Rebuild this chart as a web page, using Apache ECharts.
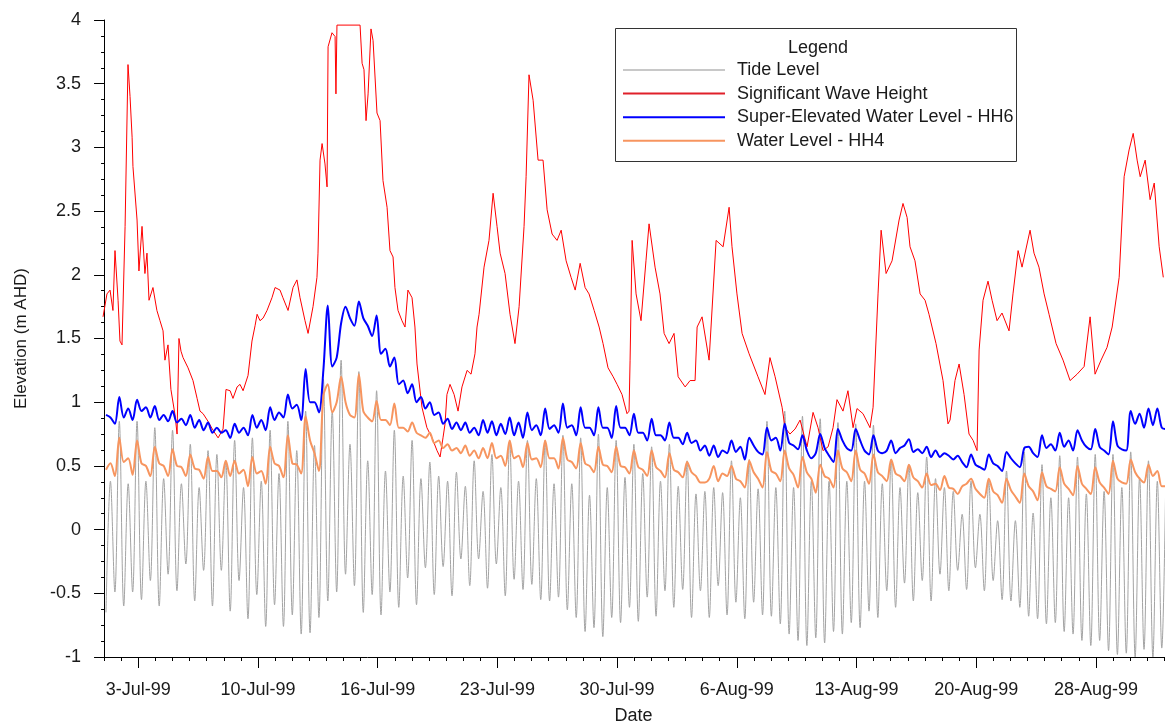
<!DOCTYPE html>
<html>
<head>
<meta charset="utf-8">
<script src="https://cdn.jsdelivr.net/npm/echarts@6/dist/echarts.min.js"></script>
<style>
html,body{margin:0;padding:0;background:#fff;}
#chart{width:1165px;height:724px;}
</style>
</head>
<body>
<div id="chart"></div>
<script>
// x values are days since 1-Jul-99 00:00
const dateLabels = ['3-Jul-99','10-Jul-99','16-Jul-99','23-Jul-99','30-Jul-99','6-Aug-99','13-Aug-99','20-Aug-99','28-Aug-99'];
const dateTickDays = [2, 9, 16, 23, 30, 37, 44, 51, 58];
const axisStartDay = -0.12;
const axisEndDay = 62.04;
const dayCount = 62;

const yTickLabels = ['-1','-0.5','0','0.5','1','1.5','2','2.5','3','3.5','4'];

// Tide / water-level series: sampled at successive tide turning points (every ~6.2 h)
const tideStartDay = 0.114;
const tideStepDay = 0.2594;

const tideLevel = [
 -0.65,0.38,-0.49,0.85,-0.60,0.36,-0.49,0.85,-0.55,0.38,
 -0.40,0.80,-0.60,0.40,-0.35,0.78,-0.48,0.36,-0.27,0.67,
 -0.56,0.33,-0.32,0.62,-0.60,0.59,-0.32,0.54,-0.64,0.70,
 -0.40,0.33,-0.70,0.72,-0.51,0.38,-0.76,0.78,-0.59,0.44,
 -0.76,0.85,-0.67,0.62,-0.82,0.93,-0.81,0.66,-0.69,1.18,
 -0.56,0.93,-0.49,1.33,-0.35,0.67,-0.44,1.24,-0.65,0.54,
 -0.51,1.09,-0.67,0.46,-0.49,0.78,-0.61,0.42,-0.38,0.70,
 -0.59,0.40,-0.30,0.53,-0.51,0.42,-0.29,0.38,-0.52,0.45,
 -0.23,0.34,-0.44,0.54,-0.23,0.30,-0.46,0.59,-0.27,0.33,
 -0.52,0.70,-0.39,0.38,-0.47,0.70,-0.43,0.40,-0.55,0.70,
 -0.56,0.36,-0.53,0.74,-0.63,0.36,-0.69,0.72,-0.80,0.27,
 -0.77,0.75,-0.84,0.33,-0.69,0.70,-0.73,0.41,-0.61,0.67,
 -0.72,0.44,-0.53,0.65,-0.68,0.38,-0.48,0.67,-0.61,0.34,
 -0.47,0.54,-0.69,0.28,-0.48,0.30,-0.69,0.33,-0.44,0.29,
 -0.67,0.54,-0.57,0.25,-0.70,0.55,-0.57,0.32,-0.67,0.85,
 -0.68,0.33,-0.74,0.93,-0.82,0.33,-0.87,0.89,-0.91,0.38,
 -0.85,0.87,-0.89,0.38,-0.80,0.84,-0.82,0.38,-0.73,0.83,
 -0.77,0.38,-0.64,0.82,-0.69,0.36,-0.48,0.55,-0.61,0.33,
 -0.42,0.51,-0.56,0.29,-0.40,0.57,-0.56,0.40,-0.35,0.33,
 -0.48,0.30,-0.32,0.12,-0.47,0.38,-0.30,0.12,-0.48,0.38,
 -0.40,0.07,-0.55,0.46,-0.56,0.07,-0.61,0.61,-0.68,0.13,
 -0.70,0.51,-0.74,0.25,-0.73,0.58,-0.80,0.25,-0.82,0.57,
 -0.87,0.28,-0.91,0.59,-0.87,0.30,-0.95,0.59,-0.98,0.33,
 -0.97,0.61,-1.00,0.41,-0.94,0.54,-1.00,0.38,-0.93,0.62
];

const hh6Level = [
 0.90,0.88,0.83,1.04,0.88,0.95,0.86,1.02,0.93,0.96,
 0.88,0.97,0.86,0.90,0.85,0.93,0.84,0.87,0.82,0.90,
 0.80,0.86,0.78,0.84,0.76,0.80,0.76,0.78,0.72,0.83,
 0.76,0.80,0.74,0.90,0.80,0.86,0.78,0.96,0.86,0.92,
 0.88,1.06,0.95,0.98,0.86,1.26,1.00,1.00,0.92,1.25,
 1.76,1.28,1.35,1.62,1.75,1.66,1.60,1.79,1.66,1.60,
 1.52,1.68,1.38,1.42,1.28,1.35,1.14,1.17,1.07,1.14,
 1.00,1.04,0.95,1.00,0.90,0.92,0.83,0.87,0.79,0.84,
 0.78,0.84,0.76,0.80,0.74,0.86,0.76,0.85,0.74,0.83,
 0.75,0.88,0.74,0.84,0.72,0.92,0.78,0.82,0.74,0.95,
 0.79,0.82,0.76,0.99,0.80,0.82,0.74,0.96,0.80,0.80,
 0.74,0.96,0.80,0.80,0.72,0.97,0.80,0.80,0.74,0.91,
 0.76,0.76,0.70,0.87,0.74,0.74,0.70,0.84,0.72,0.72,
 0.67,0.76,0.68,0.70,0.62,0.66,0.58,0.66,0.57,0.62,
 0.60,0.70,0.61,0.65,0.55,0.72,0.66,0.61,0.59,0.80,
 0.70,0.72,0.62,0.83,0.68,0.66,0.63,0.74,0.62,0.56,
 0.60,0.75,0.64,0.58,0.53,0.79,0.70,0.64,0.62,0.79,
 0.70,0.62,0.59,0.74,0.62,0.60,0.62,0.70,0.60,0.64,
 0.66,0.71,0.61,0.63,0.60,0.65,0.57,0.62,0.57,0.60,
 0.58,0.55,0.58,0.53,0.49,0.59,0.51,0.49,0.47,0.59,
 0.52,0.50,0.46,0.61,0.56,0.52,0.49,0.64,0.65,0.60,
 0.57,0.74,0.64,0.67,0.62,0.76,0.65,0.70,0.62,0.78,
 0.70,0.65,0.63,0.79,0.65,0.62,0.59,0.85,0.66,0.63,
 0.62,0.93,0.83,0.91,0.80,0.95,0.82,0.95,0.80,0.79
];

const hh4Level = [
 0.47,0.52,0.42,0.72,0.53,0.56,0.43,0.70,0.52,0.50,
 0.42,0.65,0.52,0.50,0.42,0.63,0.50,0.49,0.42,0.59,
 0.48,0.47,0.40,0.57,0.46,0.46,0.41,0.54,0.42,0.54,
 0.44,0.47,0.34,0.57,0.44,0.46,0.36,0.65,0.52,0.50,
 0.41,0.74,0.52,0.51,0.44,0.89,0.70,0.60,0.46,1.05,
 1.14,0.92,1.00,1.20,1.00,0.90,0.88,1.22,0.93,0.88,
 0.85,1.01,0.86,0.86,0.82,0.99,0.80,0.80,0.77,0.84,
 0.76,0.74,0.72,0.76,0.68,0.70,0.64,0.67,0.62,0.64,
 0.60,0.66,0.58,0.62,0.56,0.64,0.56,0.68,0.56,0.58,
 0.50,0.70,0.56,0.58,0.49,0.68,0.55,0.56,0.49,0.70,
 0.56,0.56,0.48,0.72,0.55,0.53,0.48,0.68,0.52,0.50,
 0.45,0.65,0.51,0.50,0.45,0.65,0.50,0.49,0.44,0.62,
 0.49,0.47,0.42,0.62,0.49,0.46,0.41,0.60,0.47,0.45,
 0.41,0.53,0.45,0.42,0.37,0.37,0.40,0.50,0.38,0.44,
 0.42,0.50,0.40,0.38,0.33,0.54,0.45,0.40,0.33,0.61,
 0.46,0.44,0.38,0.62,0.48,0.43,0.33,0.57,0.45,0.40,
 0.29,0.51,0.42,0.40,0.33,0.62,0.48,0.45,0.38,0.62,
 0.47,0.44,0.36,0.59,0.45,0.42,0.38,0.55,0.44,0.42,
 0.38,0.51,0.41,0.38,0.33,0.44,0.35,0.36,0.31,0.42,
 0.33,0.32,0.28,0.34,0.36,0.40,0.32,0.28,0.25,0.40,
 0.30,0.27,0.21,0.40,0.31,0.26,0.21,0.44,0.34,0.30,
 0.23,0.45,0.34,0.32,0.30,0.49,0.36,0.32,0.27,0.50,
 0.36,0.32,0.28,0.49,0.37,0.33,0.28,0.54,0.40,0.37,
 0.36,0.55,0.45,0.40,0.37,0.51,0.42,0.46,0.34,0.34
];

// Significant wave height: read points (day, metres)
const waveDays = [
 -0.06,0.17,0.35,0.52,0.64,0.82,0.93,1.05,1.23,1.40,1.52,1.64,1.69,1.93,2.04,2.22,2.39,2.51,2.63,2.86,
 3.09,3.27,3.45,3.56,3.74,3.91,4.15,4.27,4.38,4.50,4.62,4.91,5.20,5.44,5.61,5.79,6.08,6.37,6.67,6.96,
 7.13,7.37,7.54,7.78,7.95,8.13,8.42,8.65,8.83,8.95,9.12,9.30,9.53,9.82,10.00,10.29,10.46,10.76,11.05,11.28,
 11.46,11.75,11.93,12.22,12.45,12.51,12.63,12.75,12.92,13.04,13.10,13.33,13.51,13.56,13.62,14.97,15.09,15.20,15.32,15.44,
 15.61,15.73,15.96,16.14,16.31,16.55,16.72,16.90,17.01,17.19,17.42,17.60,17.77,18.01,18.18,18.30,18.59,18.88,19.18,19.47,
 19.65,19.82,19.94,20.05,20.23,20.47,20.70,20.93,21.23,21.46,21.69,21.81,21.93,22.22,22.51,22.75,22.98,23.16,23.45,23.74,
 24.03,24.27,24.56,24.68,24.85,25.09,25.38,25.67,25.91,26.20,26.49,26.73,27.02,27.31,27.55,27.84,28.13,28.36,28.66,28.95,
 29.18,29.47,29.77,30.00,30.29,30.58,30.70,30.76,30.88,31.11,31.40,31.69,31.87,32.22,32.51,32.75,33.04,33.33,33.57,33.98,
 34.27,34.56,34.68,34.97,35.38,35.79,36.20,36.55,36.72,37.01,37.31,37.72,38.24,38.65,38.94,39.24,39.65,39.82,40.11,40.41,
 40.70,41.11,41.46,41.75,42.04,42.34,42.63,42.86,43.21,43.50,43.80,44.03,44.38,44.79,44.97,45.26,45.44,45.73,46.08,46.49,
 46.72,46.96,47.13,47.42,47.72,48.01,48.24,48.65,49.06,49.35,49.47,49.76,50.00,50.29,50.58,50.82,51.05,51.17,51.40,51.69,
 51.93,52.22,52.51,52.92,53.15,53.45,53.68,54.15,54.38,54.67,54.97,55.26,55.67,56.08,56.49,56.90,57.31,57.66,57.95,58.30,
 58.65,58.95,59.36,59.65,59.94,60.18,60.41,60.59,60.88,61.17,61.41,61.70,61.94
];
const waveHeight = [
 1.67,1.85,1.88,1.72,2.19,1.80,1.48,1.45,2.38,3.65,3.40,3.08,2.85,2.43,2.03,2.38,2.01,2.17,1.80,1.90,
 1.72,1.64,1.56,1.33,1.45,1.10,0.90,0.75,1.50,1.40,1.35,1.27,1.17,1.03,0.93,0.91,0.85,0.78,0.72,0.79,
 1.10,1.09,1.03,1.12,1.14,1.09,1.21,1.48,1.60,1.69,1.64,1.66,1.72,1.82,1.90,1.88,1.82,1.72,1.90,1.96,
 1.82,1.64,1.54,1.75,1.98,2.17,2.90,3.03,2.87,2.69,3.79,3.90,3.87,3.42,3.96,3.96,3.66,3.61,3.21,3.42,
 3.93,3.84,3.27,3.21,2.74,2.53,2.19,2.14,1.90,1.72,1.64,1.59,1.88,1.82,1.59,1.30,0.96,0.80,0.72,0.62,
 0.57,0.72,0.83,1.06,1.14,1.06,0.93,1.12,1.25,1.22,1.38,1.59,1.69,2.06,2.27,2.64,2.38,2.17,2.01,1.69,
 1.46,1.75,2.38,2.77,3.57,3.37,2.90,2.90,2.51,2.32,2.27,2.35,2.11,1.98,1.88,2.09,1.90,1.85,1.72,1.59,
 1.46,1.27,1.20,1.14,1.06,0.91,0.93,1.33,2.27,1.85,1.64,2.11,2.40,2.06,1.85,1.54,1.46,1.54,1.20,1.12,
 1.17,1.17,1.59,1.67,1.33,2.27,2.22,2.53,2.22,1.85,1.54,1.38,1.20,1.06,1.35,1.20,0.96,0.80,0.75,0.79,
 0.86,0.65,0.92,0.80,0.62,0.65,0.80,1.02,0.93,1.09,0.80,0.95,0.91,0.80,0.96,1.85,2.35,2.01,2.11,2.43,
 2.56,2.45,2.22,2.11,1.85,1.80,1.69,1.46,1.17,0.83,0.86,1.17,1.30,1.06,0.75,0.70,0.62,1.41,1.80,1.95,
 1.80,1.64,1.70,1.56,1.85,2.19,2.06,2.35,2.17,2.06,1.85,1.69,1.46,1.33,1.17,1.22,1.28,1.67,1.22,1.33,
 1.43,1.59,1.98,2.77,2.98,3.11,2.90,2.77,2.90,2.59,2.72,2.22,1.98
];

const seriesNames = ['Tide Level','Significant Wave Height','Super-Elevated Water Level - HH6','Water Level - HH4'];
const seriesColors = ['#a3a3a3','#ff0000','#0000ff','#f7955f'];
const legendColors = ['#c8c8c8','#e0202a','#0000ff','#f7955f'];

function gridSeries(values){
  return values.map((v,i)=>[tideStartDay + i*tideStepDay, v]);
}
const dayTicks = [];
for(let d=0; d<=dayCount; d++) dayTicks.push(d);

const FONT = 'Liberation Sans, Arial, sans-serif';
const TXT = '#1a1a1a';
const FS = 18;

const chart = echarts.init(document.getElementById('chart'), null, {renderer:'canvas'});
chart.setOption({
  animation:false,
  backgroundColor:'#ffffff',
  grid:{left:102, right:0, top:20, bottom:67, containLabel:false, outerBoundsMode:'none'},
  xAxis:[{
    type:'value', min:axisStartDay, max:axisEndDay, position:'bottom',
    axisLine:{show:true, onZero:false, lineStyle:{color:'#000', width:1}},
    axisTick:{show:true, customValues:dayTicks, length:4, lineStyle:{color:'#000'}},
    axisLabel:{show:false}, splitLine:{show:false}
  },{
    type:'value', min:axisStartDay, max:axisEndDay, position:'bottom',
    axisLine:{show:false, onZero:false},
    axisTick:{show:true, customValues:dateTickDays, length:11, lineStyle:{color:'#000'}},
    axisLabel:{show:true, customValues:dateTickDays, margin:24, fontSize:FS, fontFamily:FONT, color:TXT,
      formatter:function(v){ const k = dateTickDays.indexOf(Math.round(v)); return k>=0 ? dateLabels[k] : ''; }},
    splitLine:{show:false},
    name:'Date', nameLocation:'middle', nameGap:50,
    nameTextStyle:{fontSize:FS, fontFamily:FONT, color:TXT}
  }],
  yAxis:{
    type:'value', min:-1, max:4, interval:0.5,
    axisLine:{show:true, lineStyle:{color:'#000', width:1}},
    axisTick:{show:true, length:10, lineStyle:{color:'#000'}},
    minorTick:{show:true, splitNumber:4, length:3, lineStyle:{color:'#000'}},
    splitLine:{show:false}, minorSplitLine:{show:false},
    axisLabel:{fontSize:FS, margin:21, fontFamily:FONT, color:TXT,
      formatter:function(v){ const k = Math.round((v+1)*2); return yTickLabels[k]; }},
    name:'Elevation (m AHD)', nameLocation:'middle', nameGap:72,
    nameTextStyle:{fontSize:FS-1, fontFamily:FONT, color:TXT}
  },
  legend:{
    orient:'vertical', left:623, top:60, padding:0,
    itemWidth:102, itemHeight:2, itemGap:3.6,
    icon:'rect',
    selectedMode:false,
    textStyle:{fontSize:FS, fontFamily:FONT, color:TXT, lineHeight:20, padding:[0,0,0,7]},
    data:seriesNames.map((n,i)=>({name:n, itemStyle:{color:legendColors[i]}}))
  },
  graphic:[
    {type:'rect', shape:{x:615.5, y:28.5, width:401, height:133}, style:{fill:'none', stroke:'#333', lineWidth:1}, z:100},
    {type:'text', style:{x:818, y:39, text:'Legend', textAlign:'center', fontSize:FS, fontFamily:FONT, fill:TXT}, z:100}
  ],
  series:[
    {name:seriesNames[0], type:'line', data:gridSeries(tideLevel), symbol:'none', smooth:0.35,
      lineStyle:{color:seriesColors[0], width:1}, itemStyle:{color:seriesColors[0]}, z:1},
    {name:seriesNames[1], type:'line', data:waveDays.map((d,i)=>[d, waveHeight[i]]), symbol:'none',
      lineStyle:{color:seriesColors[1], width:1}, itemStyle:{color:seriesColors[1]}, z:2},
    {name:seriesNames[2], type:'line', data:gridSeries(hh6Level), symbol:'none', smooth:0.3,
      lineStyle:{color:seriesColors[2], width:2}, itemStyle:{color:seriesColors[2]}, z:3},
    {name:seriesNames[3], type:'line', data:gridSeries(hh4Level), symbol:'none', smooth:0.3,
      lineStyle:{color:seriesColors[3], width:2}, itemStyle:{color:seriesColors[3]}, z:4}
  ]
});
</script>
</body>
</html>
